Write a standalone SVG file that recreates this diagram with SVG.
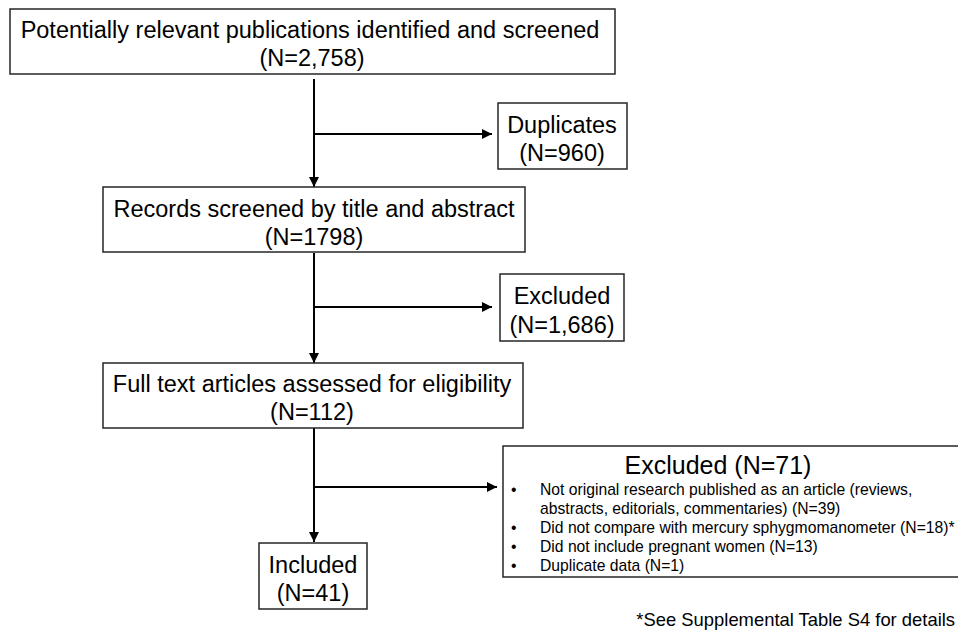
<svg xmlns="http://www.w3.org/2000/svg" width="958" height="633" viewBox="0 0 958 633">
<style>
.box{fill:#fff;stroke:#262626;stroke-width:1.5}
.t{font-family:"Liberation Sans",Arial,sans-serif;font-size:23.5px;fill:#000;text-anchor:middle}
.s{font-family:"Liberation Sans",Arial,sans-serif;font-size:15.7px;fill:#000}
.ln{stroke:#000;stroke-width:2;fill:none}
</style>
<defs>
<marker id="ah" viewBox="0 0 10 10" refX="10" refY="5" markerWidth="5" markerHeight="5" orient="auto" markerUnits="strokeWidth">
<path d="M0,0 L10,5 L0,10 Z" fill="#000"/>
</marker>
</defs>
<rect width="958" height="633" fill="#fff"/>
<g id="connectors">
<line class="ln" x1="314" y1="79" x2="314" y2="187" marker-end="url(#ah)"/>
<line class="ln" x1="314" y1="134" x2="492" y2="134" marker-end="url(#ah)"/>
<line class="ln" x1="314" y1="253" x2="314" y2="363" marker-end="url(#ah)"/>
<line class="ln" x1="314" y1="307" x2="492" y2="307" marker-end="url(#ah)"/>
<line class="ln" x1="314" y1="428" x2="314" y2="542" marker-end="url(#ah)"/>
<line class="ln" x1="314" y1="487" x2="497" y2="487" marker-end="url(#ah)"/>
</g>
<g id="identified">
<rect class="box" x="10" y="9" width="605" height="65"/>
<text class="t" x="310" y="38">Potentially relevant publications identified and screened</text>
<text class="t" x="312" y="66">(N=2,758)</text>
</g>
<g id="duplicates">
<rect class="box" x="498" y="103" width="129" height="66"/>
<text class="t" x="562" y="133">Duplicates</text>
<text class="t" x="562" y="161">(N=960)</text>
</g>
<g id="screened">
<rect class="box" x="103" y="187" width="422" height="65"/>
<text class="t" x="314" y="217">Records screened by title and abstract</text>
<text class="t" x="314" y="245">(N=1798)</text>
</g>
<g id="excluded1">
<rect class="box" x="500" y="274" width="124" height="67"/>
<text class="t" x="562" y="304">Excluded</text>
<text class="t" x="562" y="333">(N=1,686)</text>
</g>
<g id="fulltext">
<rect class="box" x="103" y="363" width="420" height="65"/>
<text class="t" x="312" y="392">Full text articles assessed for eligibility</text>
<text class="t" x="312" y="420">(N=112)</text>
</g>
<g id="excluded2">
<rect class="box" x="503" y="446" width="460" height="131"/>
<text class="t" x="718" y="474" style="font-size:25px">Excluded (N=71)</text>
<text class="s" x="511" y="495">•</text>
<text class="s" x="540" y="495">Not original research published as an article (reviews,</text>
<text class="s" x="540" y="514">abstracts, editorials, commentaries) (N=39)</text>
<text class="s" x="511" y="533">•</text>
<text class="s" x="540" y="533">Did not compare with mercury sphygmomanometer (N=18)*</text>
<text class="s" x="511" y="552">•</text>
<text class="s" x="540" y="552">Did not include pregnant women (N=13)</text>
<text class="s" x="511" y="571">•</text>
<text class="s" x="540" y="571">Duplicate data (N=1)</text>
</g>
<g id="included">
<rect class="box" x="259" y="543" width="108" height="66"/>
<text class="t" x="313" y="573">Included</text>
<text class="t" x="313" y="601">(N=41)</text>
</g>
<text class="s" x="955" y="626" text-anchor="end" style="font-size:18.4px">*See Supplemental Table S4 for details</text>
</svg>
